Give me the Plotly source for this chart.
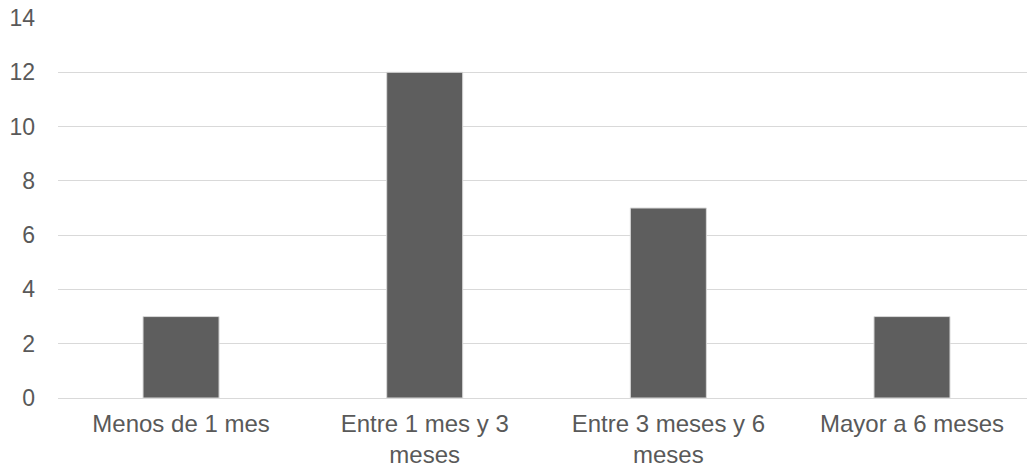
import plotly.graph_objects as go

categories = ["Menos de 1 mes", "Entre 1 mes y 3<br>meses", "Entre 3 meses y 6<br>meses", "Mayor a 6 meses"]
values = [3, 12, 7, 3]
y_ticks = [0, 2, 4, 6, 8, 10, 12, 14]

text_color = "#595959"
grid_color = "#d9d9d9"

fig = go.Figure(
    go.Bar(
        x=list(range(len(categories))),
        y=values,
        width=0.312,
        marker=dict(color="#5e5e5e", line=dict(color=grid_color, width=1)),
        hoverinfo="skip",
    )
)

fig.update_layout(
    width=1027,
    height=467,
    margin=dict(l=58, r=0, t=18, b=69),
    paper_bgcolor="white",
    plot_bgcolor="white",
    showlegend=False,
    font=dict(family="Liberation Sans, Arial, sans-serif", size=23, color=text_color),
    xaxis=dict(
        range=[-0.505, 3.472],
        tickmode="array",
        tickvals=list(range(len(categories))),
        ticktext=categories,
        tickfont=dict(size=24, color=text_color),
        showgrid=False,
        zeroline=False,
        showline=False,
        ticks="",
        ticklabelstandoff=9,
        automargin=False,
    ),
    yaxis=dict(
        range=[0, 14],
        tickmode="array",
        tickvals=y_ticks,
        ticktext=[str(v) for v in y_ticks],
        tickfont=dict(size=23, color=text_color),
        showgrid=True,
        gridcolor=grid_color,
        gridwidth=1,
        zeroline=True,
        zerolinecolor=grid_color,
        zerolinewidth=1,
        showline=False,
        ticks="",
        ticklabelstandoff=22,
        automargin=False,
    ),
)

fig.write_html("out.html")
